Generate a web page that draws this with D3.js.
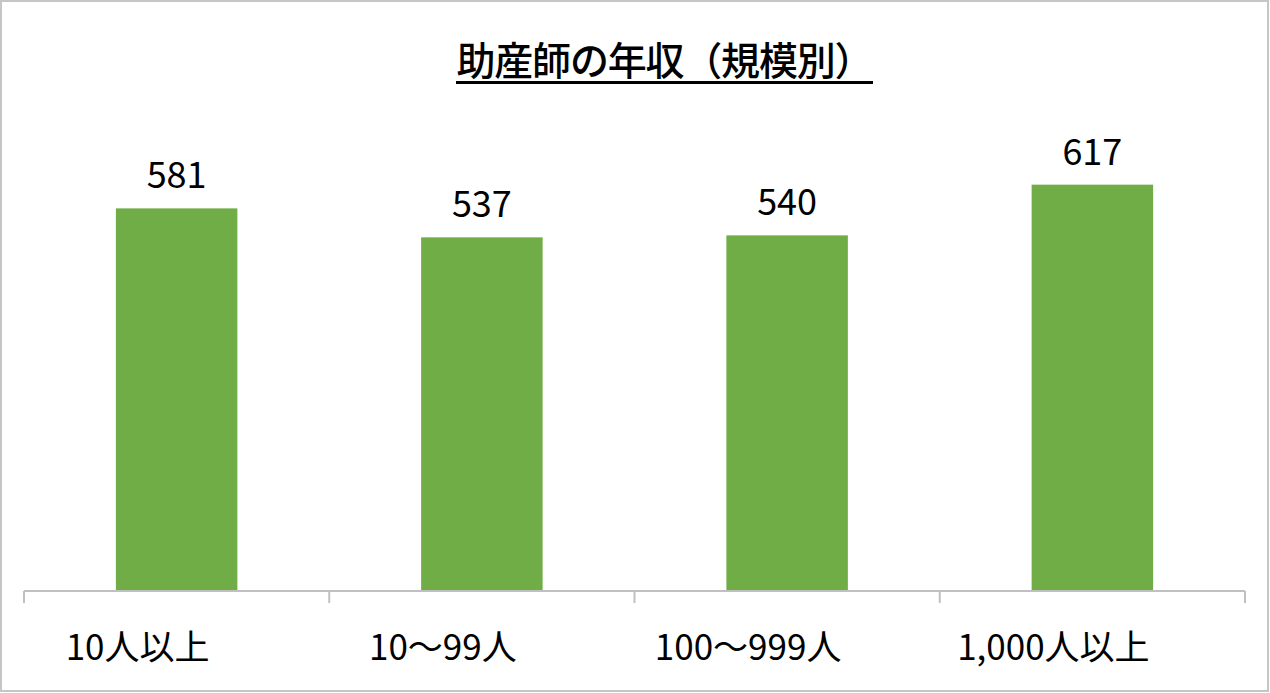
<!DOCTYPE html>
<html>
<head>
<meta charset="utf-8">
<script src="https://cdn.jsdelivr.net/npm/d3@7"></script>
<style>
  html, body { margin: 0; padding: 0; background: #fff; }
  svg { display: block; }
  text { font-family: "Noto Sans CJK JP", "Noto Sans", sans-serif; }
</style>
</head>
<body>
<svg id="chart" width="1270" height="693"></svg>
<script>
const title = "助産師の年収（規模別）";
const categories = ["10人以上", "10～99人", "100～999人", "1,000人以上"];
const values = [581, 537, 540, 617];
const yDomain = [0, 700];

const svg = d3.select("#chart");
const W = 1270, H = 693;

// frame
svg.append("rect")
  .attr("x", 1).attr("y", 1)
  .attr("width", W - 3).attr("height", H - 3)
  .attr("fill", "#fff")
  .attr("stroke", "#c6c6c6")
  .attr("stroke-width", 2);

const plot = { left: 24, right: 1245, top: 130, bottom: 591 };

const x = d3.scaleBand()
  .domain(categories)
  .range([plot.left, plot.right])
  .paddingInner(0.602)
  .paddingOuter(0.301);

const y = d3.scaleLinear()
  .domain(yDomain)
  .range([plot.bottom, plot.top]);

// title
const t = svg.append("text")
  .attr("x", 665)
  .attr("y", 75)
  .attr("text-anchor", "middle")
  .attr("font-size", 39)
  .attr("font-weight", 500)
  .attr("fill", "#000")
  .attr("textLength", 417)
  .attr("lengthAdjust", "spacing")
  .text(title);

// underline
svg.append("line")
  .attr("x1", 456).attr("x2", 873)
  .attr("y1", 82.5).attr("y2", 82.5)
  .attr("stroke", "#000")
  .attr("stroke-width", 3);

// bars
svg.append("g").selectAll("rect")
  .data(values)
  .join("rect")
  .attr("x", (d, i) => x(categories[i]))
  .attr("y", d => y(d))
  .attr("width", x.bandwidth())
  .attr("height", d => y(0) - y(d))
  .attr("fill", "#70ad47");

// value labels
svg.append("g").selectAll("text")
  .data(values)
  .join("text")
  .attr("x", (d, i) => x(categories[i]) + x.bandwidth() / 2)
  .attr("y", d => y(d) - 20)
  .attr("text-anchor", "middle")
  .attr("font-size", 36)
  .attr("fill", "#000")
  .text(d => d);

// axis
const gAxis = svg.append("g")
  .attr("transform", `translate(0,${plot.bottom})`);

gAxis.append("line")
  .attr("x1", plot.left).attr("x2", plot.right)
  .attr("y1", 0).attr("y2", 0)
  .attr("stroke", "#c0c0c0").attr("stroke-width", 2);

const boundaries = categories.map(c => x(c) - x.step() * x.paddingInner() / 2)
  .concat([plot.right]);
boundaries[0] = plot.left;
gAxis.selectAll(".sep")
  .data(boundaries)
  .join("line")
  .attr("class", "sep")
  .attr("x1", d => d).attr("x2", d => d)
  .attr("y1", 0).attr("y2", 12)
  .attr("stroke", "#c0c0c0").attr("stroke-width", 2);

// category labels
svg.append("g").selectAll("text")
  .data(categories)
  .join("text")
  .attr("x", d => x(d) + x.bandwidth() / 2 - 39)
  .attr("y", 660)
  .attr("text-anchor", "middle")
  .attr("font-size", 35)
  .attr("fill", "#000")
  .text(d => d);
</script>
</body>
</html>
